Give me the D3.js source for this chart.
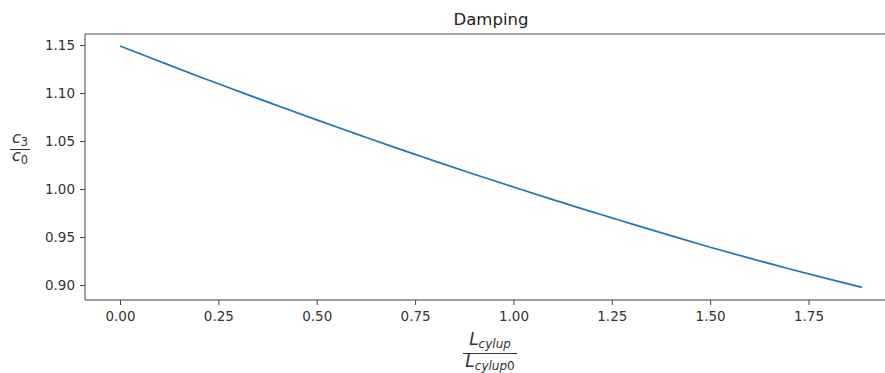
<!DOCTYPE html>
<html>
<head>
<meta charset="utf-8">
<script src="https://cdn.jsdelivr.net/npm/d3@7"></script>
<style>
  body { margin: 0; background: #fff; }
  svg { font-family: "DejaVu Sans", sans-serif; }
</style>
</head>
<body>
<svg id="chart" width="885" height="373"></svg>
<script>
// values
const lengthRatio = [0, 0.1, 0.2, 0.25, 0.3, 0.4, 0.5, 0.6, 0.7, 0.75, 0.8, 0.9, 1.0,
  1.1, 1.2, 1.25, 1.3, 1.4, 1.5, 1.6, 1.7, 1.8, 1.886];
const dampingRatio = [1.149, 1.1331, 1.1173, 1.1096, 1.1020, 1.0869, 1.0720, 1.0575, 1.0431, 1.0361, 1.0291, 1.0154, 1.0021,
  0.9890, 0.9762, 0.9700, 0.9637, 0.9514, 0.9394, 0.9280, 0.9170, 0.9064, 0.8976];
const xTicks = [0, 0.25, 0.5, 0.75, 1.0, 1.25, 1.5, 1.75];
const yTicks = [0.90, 0.95, 1.00, 1.05, 1.10, 1.15];

const svg = d3.select("#chart");
const plotLeft = 85, plotTop = 34, plotBottom = 300, plotRight = 899;

const x = d3.scaleLinear().domain([-0.089, 1.98]).range([plotLeft, plotRight]);
const y = d3.scaleLinear().domain([0.8844, 1.1615]).range([plotBottom, plotTop]);

// spines
svg.append("line").attr("x1", plotLeft).attr("x2", plotRight).attr("y1", plotTop).attr("y2", plotTop)
  .attr("stroke", "#8a8a8a").attr("stroke-width", 1.6);
svg.append("line").attr("x1", plotLeft).attr("x2", plotLeft).attr("y1", plotTop).attr("y2", plotBottom)
  .attr("stroke", "#444").attr("stroke-width", 1);
svg.append("line").attr("x1", plotLeft).attr("x2", plotRight).attr("y1", plotBottom).attr("y2", plotBottom)
  .attr("stroke", "#444").attr("stroke-width", 1);

const gx = svg.append("g").attr("transform", "translate(0," + plotBottom + ")")
  .call(d3.axisBottom(x).tickValues(xTicks).tickFormat(d3.format(".2f")).tickSize(5).tickPadding(6));
const gy = svg.append("g").attr("transform", "translate(" + plotLeft + ",0)")
  .call(d3.axisLeft(y).tickValues(yTicks).tickFormat(d3.format(".2f")).tickSize(5).tickPadding(5));
[gx, gy].forEach(function (g) {
  g.select(".domain").remove();
  g.selectAll(".tick line").attr("stroke", "#444");
  g.selectAll(".tick text").attr("fill", "#333").style("font-size", "13.5px")
    .style("font-family", "DejaVu Sans, sans-serif");
});

// data line
const line = d3.line().curve(d3.curveMonotoneX)
  .x(function (d) { return x(d[0]); }).y(function (d) { return y(d[1]); });
svg.append("path").datum(d3.zip(lengthRatio, dampingRatio))
  .attr("d", line).attr("fill", "none").attr("stroke", "#1f77b4").attr("stroke-width", 1.7);

// title
svg.append("text").attr("x", (plotLeft + plotRight) / 2 - 1).attr("y", 25).attr("text-anchor", "middle")
  .attr("fill", "#222").style("font-size", "16.5px").text("Damping");

// fraction labels
function frac(g, cx, yNum, yLine, yDen, halfW, base, sub, size, subSize, subShift) {
  [[yNum, sub[0]], [yDen, sub[1]]].forEach(function (p) {
    const t = g.append("text").attr("x", cx).attr("y", p[0]).attr("text-anchor", "middle")
      .attr("fill", "#333").style("font-size", size + "px");
    t.append("tspan").style("font-style", "italic").text(base);
    t.append("tspan").attr("dy", subShift).style("font-size", subSize + "px")
      .style("font-style", p[1].italic ? "italic" : "normal").text(p[1].text);
    if (p[1].tail) {
      t.append("tspan").style("font-size", subSize + "px").style("font-style", "normal").text(p[1].tail);
    }
  });
  g.append("line").attr("x1", cx - halfW).attr("x2", cx + halfW).attr("y1", yLine).attr("y2", yLine)
    .attr("stroke", "#333").attr("stroke-width", 1);
}
frac(svg.append("g"), 20, 143, 149.5, 161, 10, "c",
  [{ text: "3", italic: false }, { text: "0", italic: false }], 16, 11.5, 3);
frac(svg.append("g"), 490, 345, 353.5, 367, 27, "L",
  [{ text: "cylup", italic: true }, { text: "cylup", italic: true, tail: "0" }], 17, 12, 3);
</script>
</body>
</html>
